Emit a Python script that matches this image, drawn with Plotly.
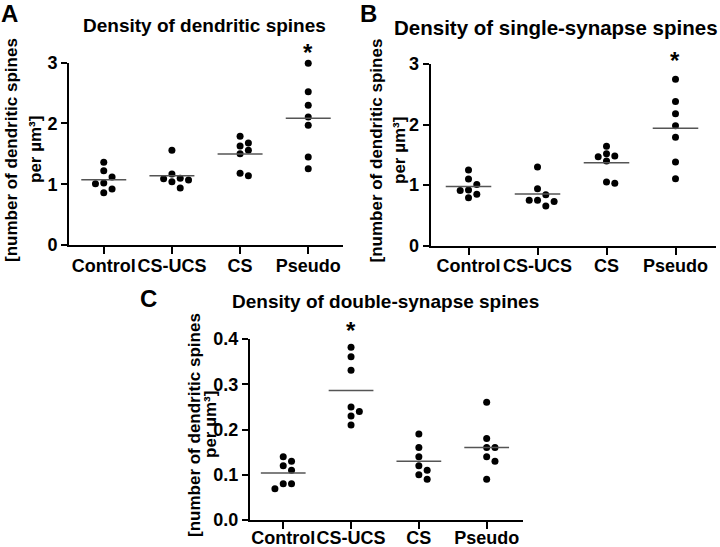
import plotly.graph_objects as go

W, H = 720, 547

categories = ["Control", "CS-UCS", "CS", "Pseudo"]

# Panel A: density of dendritic spines
A_control = [1.36, 1.22, 1.12, 1.02, 1.01, 0.92, 0.86]
A_csucs = [1.56, 1.17, 1.10, 1.07, 1.09, 1.04, 0.94]
A_cs = [1.79, 1.68, 1.63, 1.56, 1.50, 1.18, 1.14]
A_pseudo = [2.99, 2.52, 2.30, 2.105, 1.97, 1.45, 1.255]

# Panel B: density of single-synapse spines
B_control = [1.25, 1.10, 1.01, 0.92, 0.91, 0.85, 0.79]
B_csucs = [1.30, 0.94, 0.84, 0.75, 0.75, 0.73, 0.655]
B_cs = [1.64, 1.52, 1.48, 1.47, 1.40, 1.05, 1.03]
B_pseudo = [2.75, 2.38, 2.18, 1.98, 1.79, 1.38, 1.105]

# Panel C: density of double-synapse spines
C_control = [0.14, 0.13, 0.12, 0.11, 0.08, 0.08, 0.069]
C_csucs = [0.382, 0.361, 0.331, 0.25, 0.24, 0.23, 0.21]
C_cs = [0.19, 0.16, 0.14, 0.12, 0.11, 0.10, 0.09]
C_pseudo = [0.26, 0.18, 0.16, 0.16, 0.14, 0.13, 0.09]

A_ticks = [0, 1, 2, 3]
B_ticks = [0, 1, 2, 3]
C_ticks = [0.0, 0.1, 0.2, 0.3, 0.4]

# significance marks: (category index, height in data units)
A_star = (3, 3.16)
B_star = (3, 3.05)
C_star = (1, 0.418)

titles = ["Density of dendritic spines",
          "Density of single-synapse spines",
          "Density of double-synapse spines"]
letters = ["A", "B", "C"]
ytitle_lines = ["[number of dendritic spines", "per \u00b5m\u00b3]"]
star = "*"

FONT = "Liberation Sans, Arial, sans-serif"


def px_x(p):
    return p / W


def px_y(p):
    return 1 - p / H


# panel layout in pixels
panels = [
    dict(x0=69, x1=343, yt=62.7, yb=245, xr=[-0.51, 3.51], yr=[0, 3],
         groups=[A_control, A_csucs, A_cs, A_pseudo], ticks=A_ticks, fmt=None,
         star=A_star, standoff=-4),
    dict(x0=430.7, x1=716, yt=64, yb=245.7, xr=[-0.548, 3.587], yr=[0, 3],
         groups=[B_control, B_csucs, B_cs, B_pseudo], ticks=B_ticks, fmt=None,
         star=B_star, standoff=-4),
    dict(x0=250, x1=523.3, yt=339, yb=520, xr=[-0.49, 3.54], yr=[0, 0.4],
         groups=[C_control, C_csucs, C_cs, C_pseudo], ticks=C_ticks, fmt="{:.1f}",
         star=C_star, standoff=-7),
]


def swarm(vals, px_per_unit, thresh=7.0):
    """Greedy column-scatter: place points into side slots when they overlap."""
    order = sorted(range(len(vals)), key=lambda i: -vals[i])
    slots = [0] * len(vals)
    placed = []
    cand = [0, 1, -1, 2, -2, 3, -3]
    for i in order:
        for s in cand:
            ok = all(not (ps == s and abs(vals[i] - pv) * px_per_unit < thresh)
                     for ps, pv in placed)
            if ok:
                slots[i] = s
                placed.append((s, vals[i]))
                break
    return slots


fig = go.Figure()
annotations = []
layout_axes = {}
step_px = 8.3
half_line = 0.33
TICKSIZE = 18

for k, p in enumerate(panels):
    sfx = "" if k == 0 else str(k + 1)
    xa, ya = "x" + sfx, "y" + sfx
    px_per_cat = (p["x1"] - p["x0"]) / (p["xr"][1] - p["xr"][0])
    px_per_val = (p["yb"] - p["yt"]) / (p["yr"][1] - p["yr"][0])
    step = step_px / px_per_cat
    for ci, vals in enumerate(p["groups"]):
        slots = swarm(vals, px_per_val)
        xs = [ci + s * step for s in slots]
        fig.add_trace(go.Scatter(
            x=xs, y=vals, mode="markers", xaxis=xa, yaxis=ya,
            marker=dict(color="black", size=7, line=dict(width=0)),
            cliponaxis=False, showlegend=False, hoverinfo="y"))
        m = sum(vals) / len(vals)
        fig.add_trace(go.Scatter(
            x=[ci - half_line, ci + half_line], y=[m, m], mode="lines",
            xaxis=xa, yaxis=ya, line=dict(color="#555555", width=1.5),
            cliponaxis=False, showlegend=False, hoverinfo="skip"))
    # star position through the same linear axis mapping
    sc, sy = p["star"]
    sx_px = p["x0"] + (sc - p["xr"][0]) * px_per_cat
    sy_px = p["yb"] - (sy - p["yr"][0]) * px_per_val
    annotations.append(dict(
        x=px_x(sx_px), y=px_y(sy_px), xref="paper", yref="paper", text=star,
        showarrow=False, xanchor="center", yanchor="middle",
        font=dict(family=FONT, size=24, color="black", weight="bold")))

    ticktext = [p["fmt"].format(t) if p["fmt"] else str(t) for t in p["ticks"]]
    layout_axes["xaxis" + sfx] = dict(
        domain=[px_x(p["x0"]), px_x(p["x1"])], range=p["xr"], anchor=ya,
        tickmode="array", tickvals=list(range(len(categories))), ticktext=categories,
        tickangle=0, ticklabelstandoff=p["standoff"],
        showline=True, linecolor="black", linewidth=2, ticks="outside",
        ticklen=7, tickwidth=2, tickcolor="black", showgrid=False, zeroline=False,
        tickfont=dict(family=FONT, size=TICKSIZE, color="black", weight="bold"),
        fixedrange=True, automargin=False)
    layout_axes["yaxis" + sfx] = dict(
        domain=[px_y(p["yb"]), px_y(p["yt"])], range=p["yr"], anchor=xa,
        tickmode="array", tickvals=p["ticks"], ticktext=ticktext,
        showline=True, linecolor="black", linewidth=2, ticks="outside",
        ticklen=6, tickwidth=2, tickcolor="black", showgrid=False, zeroline=False,
        tickfont=dict(family=FONT, size=TICKSIZE, color="black", weight="bold"),
        fixedrange=True, automargin=False)

# titles, letters, y titles (pixel positions)
title_pos = [(204, 26, 19), (555.5, 27, 20.5), (385, 301, 19)]
letter_pos = [(9.5, 13.5), (368, 13.5), (148.5, 298.5)]
ytitle_pos = [((11, 35), 150), ((376.5, 400), 151), ((194, 210), 425)]
for t, (x, y, fs) in zip(titles, title_pos):
    annotations.append(dict(x=px_x(x), y=px_y(y), xref="paper", yref="paper",
                            text=t, showarrow=False, xanchor="center", yanchor="middle",
                            font=dict(family=FONT, size=fs, color="black", weight="bold")))
for t, (x, y) in zip(letters, letter_pos):
    annotations.append(dict(x=px_x(x), y=px_y(y), xref="paper", yref="paper",
                            text=t, showarrow=False, xanchor="center", yanchor="middle",
                            font=dict(family=FONT, size=24, color="black", weight="bold")))
for (xs, y) in ytitle_pos:
    for line, x in zip(ytitle_lines, xs):
        annotations.append(dict(x=px_x(x), y=px_y(y), xref="paper", yref="paper",
                                text=line, showarrow=False, textangle=-90,
                                xanchor="center", yanchor="middle",
                                font=dict(family=FONT, size=17, color="black",
                                          weight="bold")))

fig.update_layout(
    width=W, height=H, margin=dict(l=0, r=0, t=0, b=0, autoexpand=False),
    paper_bgcolor="white", plot_bgcolor="white",
    annotations=annotations, showlegend=False, **layout_axes)

fig.write_html("out.html", config={"displayModeBar": False},
               post_script="document.body.style.margin='0';document.body.style.padding='0';")
